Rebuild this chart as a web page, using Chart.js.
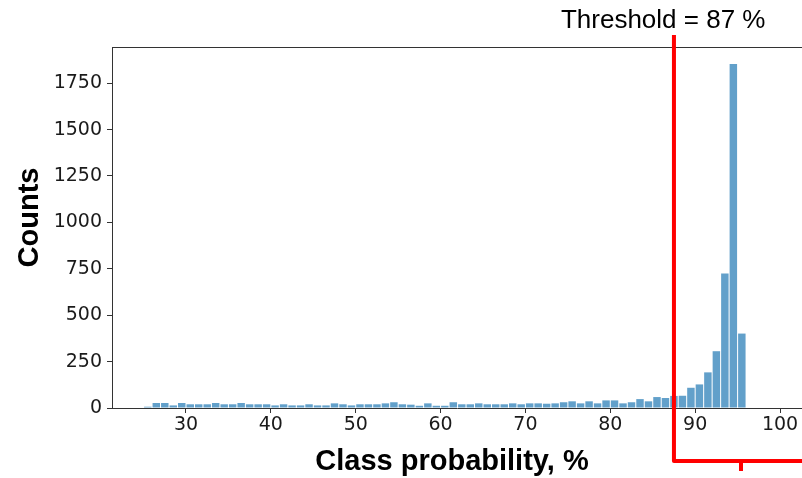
<!DOCTYPE html>
<html>
<head>
<meta charset="utf-8">
<script src="https://cdn.jsdelivr.net/npm/chart.js@4"></script>
<style>
  body { margin: 0; background: #fff; }
</style>
</head>
<body>
<canvas id="grafico" width="802" height="478"></canvas>
<script>
// bins de 1% (inicio de cada bin)
const binStart = [25, 26, 27, 28, 29, 30, 31, 32, 33, 34, 35, 36, 37, 38, 39,
  40, 41, 42, 43, 44, 45, 46, 47, 48, 49, 50, 51, 52, 53, 54, 55, 56, 57, 58, 59,
  60, 61, 62, 63, 64, 65, 66, 67, 68, 69, 70, 71, 72, 73, 74, 75, 76, 77, 78, 79,
  80, 81, 82, 83, 84, 85, 86, 87, 88, 89, 90, 91, 92, 93, 94, 95];
const counts = [7, 27, 27, 14, 27, 20, 20, 20, 27, 20, 20, 27, 20, 20, 20,
  14, 20, 14, 14, 20, 14, 14, 25, 20, 14, 20, 20, 20, 25, 31, 20, 18, 12, 25, 12,
  12, 31, 20, 20, 25, 20, 20, 20, 25, 20, 25, 25, 23, 25, 31, 36, 25, 36, 25, 41,
  41, 25, 31, 48, 36, 59, 54, 65, 66, 109, 127, 192, 306, 724, 1853, 401];
const xTicks = [30, 40, 50, 60, 70, 80, 90, 100];
const yTicks = [0, 250, 500, 750, 1000, 1250, 1500, 1750];
const threshold = 87.5;   // onde a linha vermelha passa no eixo
const thresholdLabel = "Threshold = 87 %";

const ctx = document.getElementById("grafico");

// linha vermelha, colchete, spine de cima e titulos dos eixos
const extras = {
  id: "extras",
  afterDraw(chart) {
    const c = chart.ctx;
    const a = chart.chartArea;
    const x = chart.scales.x;
    c.save();

    c.strokeStyle = "#333";
    c.lineWidth = 1;
    c.beginPath();
    c.moveTo(a.left, a.top + 0.5);
    c.lineTo(a.right, a.top + 0.5);
    c.stroke();

    const xt = x.getPixelForValue(threshold);
    const xEnd = x.getPixelForValue(103.3);
    const yBr = a.bottom + 53;
    c.strokeStyle = "#ff0000";
    c.lineWidth = 4;
    c.lineJoin = "round";
    c.beginPath();
    c.moveTo(xt, a.top - 12);
    c.lineTo(xt, yBr);
    c.lineTo(xEnd, yBr);
    c.stroke();
    c.beginPath();
    c.moveTo((xt + xEnd) / 2, yBr);
    c.lineTo((xt + xEnd) / 2, yBr + 10);
    c.stroke();

    c.fillStyle = "#000";
    c.font = '26px "Liberation Sans", Arial, sans-serif';
    c.textAlign = "left";
    c.textBaseline = "alphabetic";
    c.fillText(thresholdLabel, xt - 113, a.top - 19);

    c.font = 'bold 29px "Liberation Sans", Arial, sans-serif';
    c.textAlign = "center";
    c.fillText("Class probability, %", (a.left + a.right) / 2 - 5, a.bottom + 62);

    c.translate(38, (a.top + a.bottom) / 2 - 10);
    c.rotate(-Math.PI / 2);
    c.fillText("Counts", 0, 0);
    c.restore();
  }
};

new Chart(ctx, {
  type: "bar",
  data: {
    datasets: [{
      label: "Counts",
      data: binStart.map((b, i) => ({ x: b + 0.5, y: counts[i] })),
      backgroundColor: "rgba(31,119,180,0.7)",
      borderWidth: 0,
      barPercentage: 0.88,
      categoryPercentage: 1.0
    }]
  },
  options: {
    responsive: false,
    animation: false,
    layout: { padding: { top: 47, right: 0, bottom: 0, left: 0 } },
    plugins: { legend: { display: false }, tooltip: { enabled: false } },
    scales: {
      x: {
        type: "linear",
        offset: false,
        min: 21.28,
        max: 102.59,
        afterFit(s) { s.height = 70; },
        afterBuildTicks(s) { s.ticks = xTicks.map(v => ({ value: v })); },
        grid: { offset: false, drawOnChartArea: false, drawTicks: true, tickLength: 5, tickColor: "#333" },
        border: { display: true, color: "#333", width: 1 },
        ticks: {
          color: "#1a1a1a",
          padding: 1,
          maxRotation: 0,
          callback: v => String(v),
          font: { family: '"DejaVu Sans", sans-serif', size: 19 }
        }
      },
      y: {
        min: 0,
        max: 1945,
        afterFit(s) { s.width = 112; },
        afterBuildTicks(s) { s.ticks = yTicks.map(v => ({ value: v })); },
        grid: { drawOnChartArea: false, drawTicks: true, tickLength: 5, tickColor: "#333" },
        border: { display: true, color: "#333", width: 1 },
        ticks: {
          color: "#1a1a1a",
          padding: 5,
          callback: v => String(v),
          font: { family: '"DejaVu Sans", sans-serif', size: 19 }
        }
      }
    }
  },
  plugins: [extras]
});
</script>
</body>
</html>
